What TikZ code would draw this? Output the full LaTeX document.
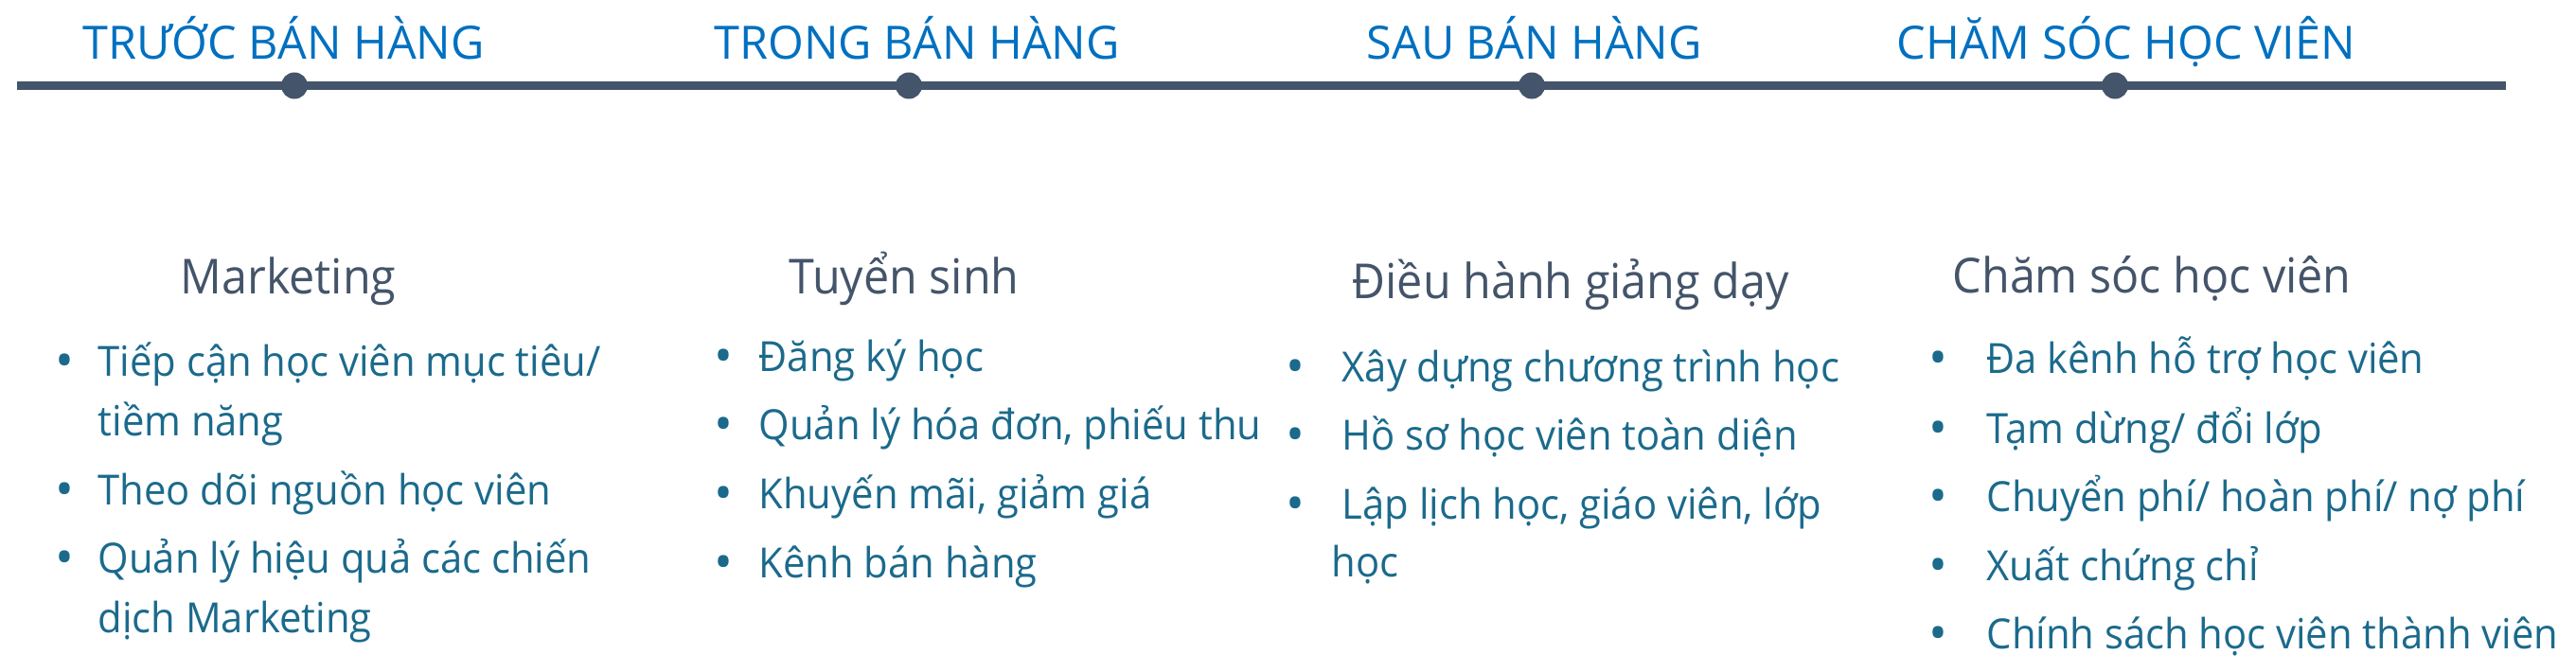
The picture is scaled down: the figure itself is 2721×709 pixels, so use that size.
\documentclass[tikz,border=0pt]{standalone}
\usepackage{fontspec}
\setmainfont{Open Sans}
\newfontfamily\subfont[FakeStretch=0.95]{Open Sans}
\newfontfamily\itemfont[FakeStretch=0.95]{Open Sans}
\definecolor{headblue}{HTML}{0070C0}
\definecolor{slate}{HTML}{44546A}
\definecolor{itemteal}{HTML}{1B6A8C}

\begin{document}
\begin{tikzpicture}[x=0.01cm, y=-0.01cm,
    head/.style={anchor=base west, inner sep=0pt, text=headblue, font=\fontsize{13.8}{16}\selectfont},
    subhead/.style={anchor=base west, inner sep=0pt, text=slate, font=\subfont\fontsize{14.5}{17}\selectfont},
    item/.style={anchor=base west, inner sep=0pt, text=itemteal, align=left, font=\itemfont\fontsize{12.5}{17.9}\selectfont},
    bul/.style={anchor=base, inner sep=0pt, text=itemteal, font=\fontsize{15}{15}\selectfont},
    dot/.style={circle, fill=slate, inner sep=0pt, minimum size=0.28cm}]
    \useasboundingbox (0,0) rectangle (2721,709);

    % Trục thời gian
    \coordinate (tlstart) at (18,90.5);
    \coordinate (tlend) at (2647,90.5);
    \draw[slate, line width=2.56pt] (tlstart) -- (tlend);
    \foreach \x/\n in {311/a, 960/b, 1618/c, 2234/d}
        \node[dot] (dot\n) at (\x,90.5) {};

    % Giai đoạn
    \node[head] (heada) at (87,62) {TRƯỚC BÁN HÀNG};
    \node[head] (headb) at (754,62) {TRONG BÁN HÀNG};
    \node[head] (headc) at (1443,62) {SAU BÁN HÀNG};
    \node[head] (headd) at (2003,62) {CHĂM SÓC HỌC VIÊN};

    % Marketing (nút nhiều dòng: đặt theo dòng cuối)
    \node[subhead] (suba) at (190,310) {Marketing};
    \node[bul] (bula1) at (68,399) {•};
    \node[item] (itema1) at (103,460) {Tiếp cận học viên mục tiêu/\\tiềm năng};
    \node[bul] (bula2) at (68,535) {•};
    \node[item] (itema2) at (103,533) {Theo dõi nguồn học viên};
    \node[bul] (bula3) at (68,607) {•};
    \node[item] (itema3) at (103,668) {Quản lý hiệu quả các chiến\\dịch Marketing};

    % Tuyển sinh
    \node[subhead] (subb) at (833,310) {Tuyển sinh};
    \node[bul] (bulb1) at (764,394) {•};
    \node[item] (itemb1) at (801,392) {Đăng ký học};
    \node[bul] (bulb2) at (764,466) {•};
    \node[item] (itemb2) at (801,464) {Quản lý hóa đơn, phiếu thu};
    \node[bul] (bulb3) at (764,539) {•};
    \node[item] (itemb3) at (801,537) {Khuyến mãi, giảm giá};
    \node[bul] (bulb4) at (764,612) {•};
    \node[item] (itemb4) at (801,610) {Kênh bán hàng};

    % Điều hành giảng dạy
    \node[subhead] (subc) at (1428,315) {Điều hành giảng dạy};
    \node[bul] (bulc1) at (1368,405) {•};
    \node[item] (itemc1) at (1417,403) {Xây dựng chương trình học};
    \node[bul] (bulc2) at (1368,477) {•};
    \node[item] (itemc2) at (1417,475) {Hồ sơ học viên toàn diện};
    \node[bul] (bulc3) at (1368,550) {•};
    \node[item] (itemc3) at (1417,548) {Lập lịch học, giáo viên, lớp};
    \node[item] (itemc3b) at (1406,609) {học};

    % Chăm sóc học viên
    \node[subhead] (subd) at (2062,309) {Chăm sóc học viên};
    \node[bul] (buld1) at (2047,396) {•};
    \node[item] (itemd1) at (2098,394) {Đa kênh hỗ trợ học viên};
    \node[bul] (buld2) at (2047,470) {•};
    \node[item] (itemd2) at (2098,468) {Tạm dừng/ đổi lớp};
    \node[bul] (buld3) at (2047,542) {•};
    \node[item] (itemd3) at (2098,540) {Chuyển phí/ hoàn phí/ nợ phí};
    \node[bul] (buld4) at (2047,615) {•};
    \node[item] (itemd4) at (2098,613) {Xuất chứng chỉ};
    \node[bul] (buld5) at (2047,687) {•};
    \node[item] (itemd5) at (2098,685) {Chính sách học viên thành viên};
\end{tikzpicture}
\end{document}
